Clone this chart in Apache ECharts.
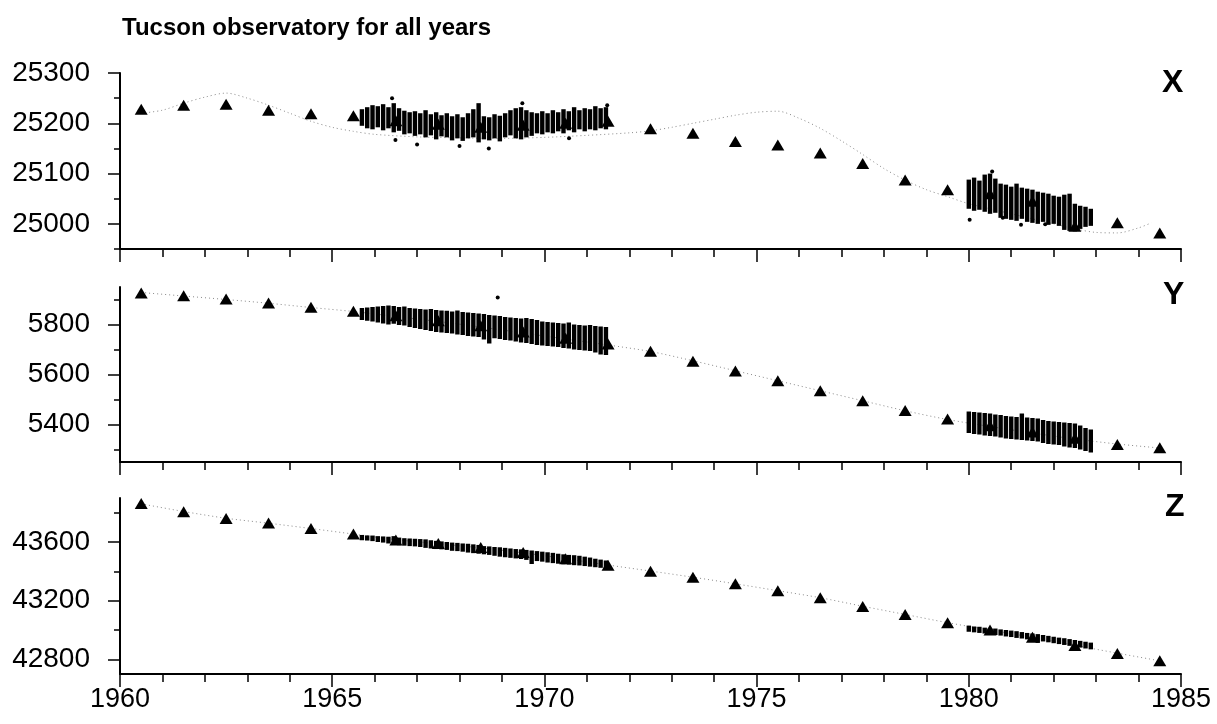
<!DOCTYPE html>
<html>
<head>
<meta charset="utf-8">
<script src="https://cdn.jsdelivr.net/npm/echarts@6.0.0/dist/echarts.min.js"></script>
<style>
html,body{margin:0;padding:0;background:#fff;}
#chart{width:1217px;height:724px;}
</style>
</head>
<body>
<div id="chart"></div>
<script>
// ---------------- DATA ----------------
const titleText = 'Tucson observatory for all years';
const panelNames = ['X', 'Y', 'Z'];
const yearTicks = [1960, 1965, 1970, 1975, 1980, 1985];

// annual means (triangles)
const meanYears = [1960.5,1961.5,1962.5,1963.5,1964.5,1965.5,1966.5,1967.5,1968.5,1969.5,1970.5,1971.5,1972.5,1973.5,1974.5,1975.5,1976.5,1977.5,1978.5,1979.5,1980.5,1981.5,1982.5,1983.5,1984.5];
const meanX = [25228,25236,25238,25226,25219,25215,25205,25198,25192,25196,25200,25204,25189,25180,25164,25157,25141,25120,25087,25068,25060,25045,24995,25002,24982];
const meanY = [5926,5915,5902,5886,5869,5853,5835,5815,5795,5770,5745,5722,5693,5653,5614,5575,5535,5495,5456,5422,5395,5370,5345,5320,5307];
const meanZ = [43862,43806,43760,43729,43692,43654,43614,43590,43562,43528,43486,43441,43400,43360,43315,43268,43220,43160,43105,43050,43000,42950,42895,42840,42790];

// model curves (dotted)
const modelYearsX = [1960.5,1961.0,1961.5,1962.0,1962.5,1963.0,1963.5,1964.0,1964.5,1965.0,1965.5,1966.0,1967.0,1968.0,1969.0,1970.0,1971.0,1972.0,1972.5,1973.0,1973.5,1974.0,1974.5,1975.0,1975.5,1976.0,1976.5,1977.0,1977.5,1978.0,1978.5,1979.0,1979.5,1980.0,1980.5,1981.0,1981.5,1982.0,1982.5,1983.0,1983.5,1984.0,1984.3];
const modelX = [25220,25226,25240,25252,25260,25250,25236,25220,25204,25192,25184,25178,25173,25171,25170,25172,25176,25181,25185,25192,25200,25208,25216,25222,25224,25210,25190,25165,25138,25110,25087,25068,25054,25040,25030,25020,25010,25000,24990,24983,24982,24992,25002];
const modelY = [5928,5914,5900,5885,5868,5852,5832,5812,5790,5766,5742,5718,5692,5655,5615,5575,5535,5495,5455,5420,5392,5366,5342,5322,5306];
const modelZ = [43860,43808,43762,43728,43692,43654,43616,43588,43560,43526,43486,43443,43402,43360,43315,43268,43220,43162,43106,43050,43000,42950,42896,42842,42790];

// dense observations: time columns with low / high extent
const c1Years = [1965.700,1965.825,1965.950,1966.075,1966.200,1966.325,1966.450,1966.575,1966.700,1966.825,1966.950,1967.075,1967.200,1967.325,1967.450,1967.575,1967.700,1967.825,1967.950,1968.075,1968.200,1968.325,1968.450,1968.575,1968.700,1968.825,1968.950,1969.075,1969.200,1969.325,1969.450,1969.575,1969.700,1969.825,1969.950,1970.075,1970.200,1970.325,1970.450,1970.575,1970.700,1970.825,1970.950,1971.075,1971.200,1971.325,1971.450];
const c2Years = [1980.000,1980.125,1980.250,1980.375,1980.500,1980.625,1980.750,1980.875,1981.000,1981.125,1981.250,1981.375,1981.500,1981.625,1981.750,1981.875,1982.000,1982.125,1982.250,1982.375,1982.500,1982.625,1982.750,1982.875];

const xLo1 = [25195,25190,25188,25192,25186,25190,25182,25185,25178,25180,25175,25178,25172,25176,25168,25174,25172,25166,25170,25165,25170,25172,25162,25168,25166,25170,25164,25172,25176,25170,25168,25172,25175,25180,25178,25182,25180,25184,25180,25186,25182,25188,25184,25188,25186,25190,25188];
const xHi1 = [25228,25232,25236,25234,25238,25232,25240,25230,25225,25222,25224,25220,25226,25218,25222,25216,25220,25214,25218,25212,25220,25228,25240,25214,25212,25218,25215,25220,25226,25230,25232,25226,25222,25220,25224,25220,25226,25222,25228,25224,25232,25226,25230,25228,25234,25230,25232];
const xLo2 = [25030,25026,25028,25024,25020,25022,25012,25010,25008,25006,25010,25004,25002,25000,25004,24998,25000,24996,24988,24986,24985,24990,24994,24996];
const xHi2 = [25088,25092,25086,25098,25100,25090,25080,25078,25074,25080,25072,25070,25068,25064,25062,25060,25056,25054,25058,25060,25040,25036,25034,25030];

const yLo1 = [5818,5815,5812,5808,5804,5800,5803,5798,5796,5790,5786,5782,5778,5774,5770,5768,5766,5764,5760,5758,5754,5752,5750,5740,5724,5745,5742,5738,5736,5732,5728,5726,5722,5718,5716,5714,5712,5710,5706,5704,5700,5698,5696,5694,5688,5680,5678];
const yHi1 = [5866,5868,5870,5872,5874,5876,5874,5870,5872,5866,5864,5862,5860,5862,5858,5856,5855,5852,5856,5850,5848,5846,5844,5842,5838,5836,5834,5830,5828,5826,5824,5826,5822,5818,5812,5810,5808,5806,5804,5808,5800,5798,5796,5798,5794,5792,5790];
const yLo2 = [5366,5362,5360,5356,5354,5352,5348,5344,5342,5340,5338,5336,5334,5332,5326,5322,5320,5318,5312,5308,5306,5300,5294,5288];
const yHi2 = [5452,5450,5448,5446,5444,5440,5438,5434,5432,5430,5444,5428,5426,5424,5418,5414,5412,5410,5408,5406,5404,5396,5386,5380];

const zLo1 = [43612,43610,43606,43600,43596,43590,43586,43578,43575,43572,43570,43566,43560,43556,43552,43550,43546,43540,43538,43534,43528,43524,43520,43516,43512,43506,43500,43496,43492,43488,43484,43478,43450,43470,43466,43460,43456,43452,43448,43446,43442,43440,43436,43432,43428,43424,43418];
const zHi1 = [43648,43645,43644,43640,43638,43636,43640,43630,43626,43624,43622,43620,43618,43612,43608,43604,43600,43596,43594,43590,43588,43584,43580,43572,43570,43566,43564,43560,43556,43552,43550,43546,43542,43538,43534,43530,43526,43520,43516,43512,43510,43506,43500,43494,43486,43480,43474];
const zLo2 = [42988,42984,42980,42976,42972,42966,42962,42956,42952,42946,42942,42936,42930,42912,42922,42916,42910,42904,42898,42892,42886,42880,42874,42868];
const zHi2 = [43030,43024,43022,43016,43014,43010,43004,43000,42996,42992,42986,42980,42976,42972,42966,42960,42954,42948,42944,42938,42932,42926,42920,42914];

// isolated dots
const outX = [[1966.41,25250],[1966.49,25167],[1967.0,25158],[1968.0,25155],[1968.69,25150],[1969.48,25240],[1971.48,25236],[1970.58,25170],[1980.02,25008],[1980.8,25012],[1981.23,24998],[1981.8,24999],[1980.55,25104]];
const outY = [[1968.9,5908]];
const outZ = [];

// axis ranges and ticks
const yMinX = 24950, yMaxX = 25300;
const yMinY = 5250,  yMaxY = 5950;
const yMinZ = 42700, yMaxZ = 43900;
const majorX = [25000,25100,25200,25300];
const minorX = [24950,25050,25150,25250];
const majorY = [5400,5600,5800];
const minorY = [5300,5500,5700,5900];
const majorZ = [42800,43200,43600];
const minorZ = [43000,43400,43800];

// ---------------- CHART ----------------
const FONT = 'Arial, "Liberation Sans", Helvetica, sans-serif';
const grids = [
  {left:120, right:36, top:73, height:176},
  {left:120, right:36, top:287, height:175},
  {left:120, right:36, top:498, height:176}
];
const ranges = [[yMinX,yMaxX],[yMinY,yMaxY],[yMinZ,yMaxZ]];
const majors = [majorX, majorY, majorZ];
const minors = [minorX, minorY, minorZ];

const xAxes = grids.map((g,i)=>({
  type:'value', gridIndex:i, min:1960, max:1985, interval:5,
  axisLine:{show:true, onZero:false, lineStyle:{color:'#000', width:2}},
  axisTick:{show:true, length:13, lineStyle:{color:'#000', width:1.5}},
  minorTick:{show:true, splitNumber:5, length:8, lineStyle:{color:'#000', width:1.5}},
  splitLine:{show:false},
  axisLabel:{show:i===2, fontSize:27, color:'#000', fontFamily:FONT, margin:12,
    customValues: yearTicks, formatter:v=>String(v)}
}));
const yAxesMajor = grids.map((g,i)=>({
  type:'value', gridIndex:i, position:'left', min:ranges[i][0], max:ranges[i][1],
  axisLine:{show:true, onZero:false, lineStyle:{color:'#000', width:2}},
  axisTick:{show:true, length:12, customValues:majors[i], lineStyle:{color:'#000', width:1.5}},
  axisLabel:{show:true, customValues:majors[i], fontSize:28, color:'#000', fontFamily:FONT, margin:30,
    formatter:v=>String(v)},
  splitLine:{show:false}
}));
const yAxesMinor = grids.map((g,i)=>({
  type:'value', gridIndex:i, position:'left', offset:0, min:ranges[i][0], max:ranges[i][1],
  axisLine:{show:false},
  axisTick:{show:true, length:6, customValues:minors[i], lineStyle:{color:'#000', width:1.5}},
  axisLabel:{show:false},
  splitLine:{show:false}
}));

function columnsSeries(idx, years, lo, hi){
  return {
    type:'custom', xAxisIndex:idx, yAxisIndex:idx, z:3,
    data: years.map((t,k)=>[t, lo[k], hi[k]]),
    encode:{x:0, y:[1,2]},
    renderItem:function(params, api){
      const top = api.coord([api.value(0), api.value(2)]);
      const bot = api.coord([api.value(0), api.value(1)]);
      return {type:'rect', shape:{x:top[0]-2.2, y:top[1], width:4.4, height:Math.max(2, bot[1]-top[1])},
              style:{fill:'#000'}};
    },
    silent:true, animation:false
  };
}
function dotsSeries(idx, pts){
  return {type:'scatter', xAxisIndex:idx, yAxisIndex:idx, data:pts, symbol:'circle', symbolSize:4,
          itemStyle:{color:'#000', opacity:1}, z:3, silent:true, animation:false};
}
function meanSeries(idx, vals){
  return {type:'scatter', xAxisIndex:idx, yAxisIndex:idx, data:meanYears.map((t,k)=>[t, vals[k]]),
          symbol:'triangle', symbolSize:[13,11], itemStyle:{color:'#000', opacity:1}, z:4, silent:true, animation:false};
}
function modelSeries(idx, yrs, vals){
  return {type:'line', xAxisIndex:idx, yAxisIndex:idx, data:yrs.map((t,k)=>[t, vals[k]]),
          showSymbol:false, smooth:0.3, lineStyle:{color:'#8a8a8a', width:1, type:[1,3]}, z:2,
          silent:true, animation:false};
}

const series = [
  modelSeries(0, modelYearsX, modelX),
  columnsSeries(0, c1Years, xLo1, xHi1),
  columnsSeries(0, c2Years, xLo2, xHi2),
  dotsSeries(0, outX),
  meanSeries(0, meanX),
  modelSeries(1, meanYears, modelY),
  columnsSeries(1, c1Years, yLo1, yHi1),
  columnsSeries(1, c2Years, yLo2, yHi2),
  dotsSeries(1, outY),
  meanSeries(1, meanY),
  modelSeries(2, meanYears, modelZ),
  columnsSeries(2, c1Years, zLo1, zHi1),
  columnsSeries(2, c2Years, zLo2, zHi2),
  dotsSeries(2, outZ),
  meanSeries(2, meanZ)
];

const chart = echarts.init(document.getElementById('chart'), null, {renderer:'canvas'});
chart.setOption({
  animation:false,
  backgroundColor:'#fff',
  title:[
    {text:titleText, left:117, top:11, textStyle:{fontSize:24, fontWeight:'bold', color:'#000', fontFamily:FONT}},
    {text:panelNames[0], left:1157, top:62, textStyle:{fontSize:32, fontWeight:'bold', color:'#000', fontFamily:FONT}},
    {text:panelNames[1], left:1158, top:274, textStyle:{fontSize:32, fontWeight:'bold', color:'#000', fontFamily:FONT}},
    {text:panelNames[2], left:1160, top:486, textStyle:{fontSize:32, fontWeight:'bold', color:'#000', fontFamily:FONT}}
  ],
  grid: grids,
  xAxis: xAxes,
  yAxis: yAxesMajor.concat(yAxesMinor),
  series: series
});
</script>
</body>
</html>
